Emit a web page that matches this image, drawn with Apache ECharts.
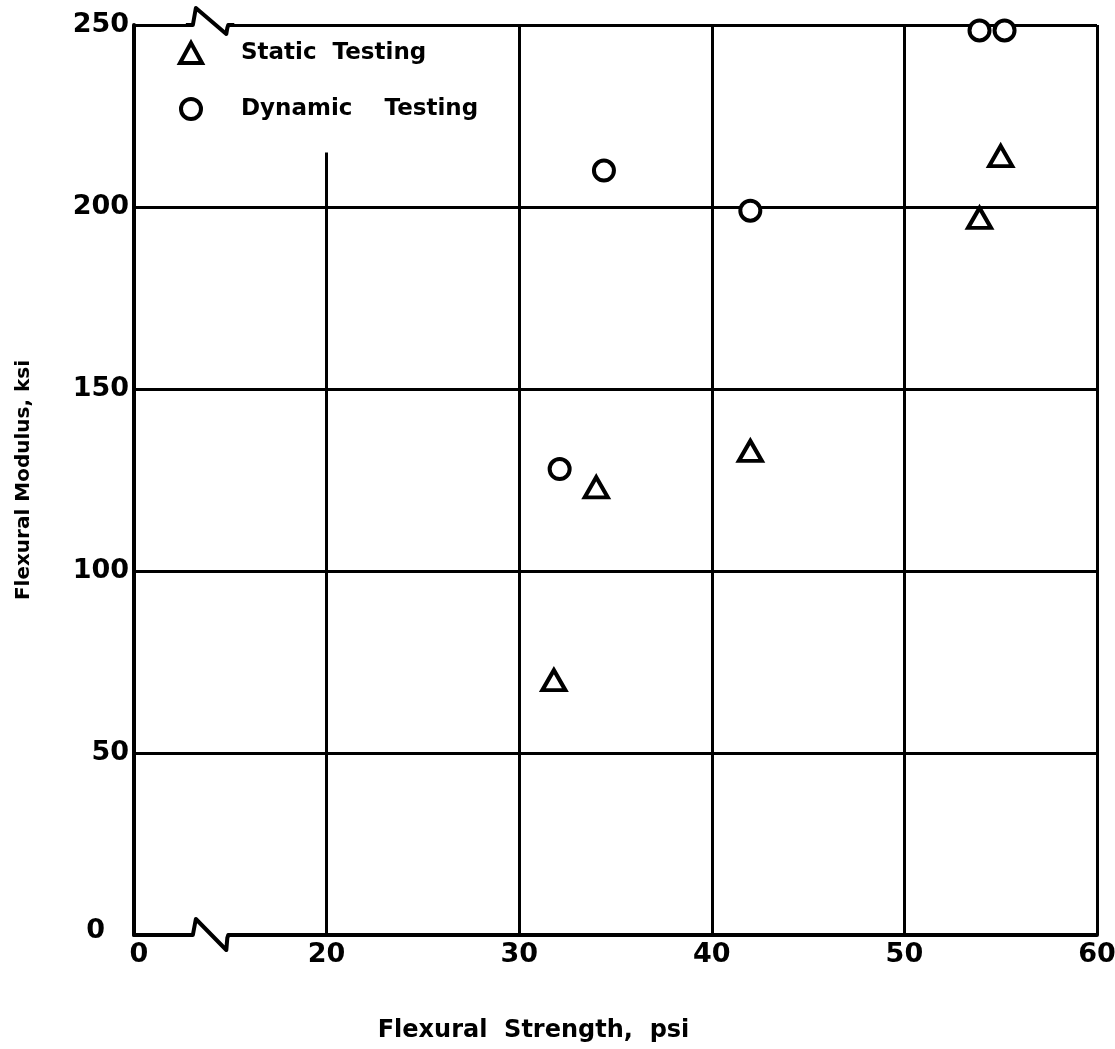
<!DOCTYPE html>
<html>
<head>
<meta charset="utf-8">
<script src="https://cdn.jsdelivr.net/npm/echarts@6/dist/echarts.min.js"></script>
<style>
html,body{margin:0;padding:0;background:#fff;}
#chart{width:1115px;height:1049px;}
</style>
</head>
<body>
<div id="chart"></div>
<script>
// Data (x: Flexural Strength, psi ; y: Flexural Modulus, ksi)
const staticX = [31.8, 34.0, 42.0, 53.9, 55.0];
const staticY = [70, 123, 133, 197, 214];
const dynamicX = [32.1, 34.4, 42.0, 53.9, 55.2];
const dynamicY = [128, 210, 199, 248.5, 248.5];
const xTickLabels = {10: '0', 20: '20', 30: '30', 40: '40', 50: '50', 60: '60'};
const yTicks = [0, 50, 100, 150, 200, 250];

const FONT = '"DejaVu Sans", sans-serif';
const chart = echarts.init(document.getElementById('chart'));

function pairs(xs, ys){ return xs.map((x,i)=>[x, ys[i]]); }

const markerStyle = {color:'#fff', borderColor:'#000', borderWidth:4, opacity:1};
const tickFont = {fontFamily:FONT, fontWeight:'bold', fontSize:27, color:'#000'};

chart.setOption({
  animation:false,
  backgroundColor:'#fff',
  grid:{left:134, right:18, top:25, bottom:114, containLabel:false, outerBoundsMode:'none'},
  legend:{
    orient:'vertical', left:173, top:36, itemGap:32,
    itemWidth:22, itemHeight:20,
    itemStyle:{color:'#fff', borderColor:'#000', borderWidth:4},
    textStyle:{fontFamily:FONT, fontWeight:'bold', fontSize:23, color:'#000', padding:[0,0,0,34]},
    data:['Static  Testing','Dynamic    Testing']
  },
  xAxis:{
    type:'value', min:10, max:60, interval:10,
    name:'Flexural  Strength,  psi', nameLocation:'middle', nameGap:84,
    nameTextStyle:{fontFamily:FONT, fontWeight:'bold', fontSize:24, color:'#000', padding:[0,164,0,0]},
    axisLine:{show:true, onZero:false, lineStyle:{color:'#000', width:4}},
    axisTick:{show:false},
    axisLabel:Object.assign({}, tickFont, {margin:6,
      formatter:v=>v===10 ? '{z|0}' : (xTickLabels[v] !== undefined ? xTickLabels[v] : ''),
      rich:{z:Object.assign({}, tickFont, {padding:[0,0,0,10]})}}),
    splitLine:{show:true, showMinLine:true, showMaxLine:true,
      lineStyle:{color:['#000','rgba(0,0,0,0)','#000','#000','#000','#000'], width:3}}
  },
  yAxis:{
    type:'value', min:0, max:250, interval:50,
    name:'Flexural Modulus, ksi', nameLocation:'middle', nameGap:100,
    nameTextStyle:{fontFamily:FONT, fontWeight:'bold', fontSize:20, color:'#000'},
    axisLine:{show:true, onZero:false, lineStyle:{color:'#000', width:4}},
    axisTick:{show:false},
    axisLabel:Object.assign({}, tickFont, {margin:5,
      formatter:v=>v===0 ? '{z|0}' : String(v),
      rich:{z:Object.assign({}, tickFont, {padding:[0,24,8,0]})}}),
    splitLine:{show:true, showMinLine:true, showMaxLine:true, lineStyle:{color:'#000', width:3}}
  },
  series:[
    {
      name:'Static  Testing', type:'scatter', symbol:'triangle', symbolSize:[23,20],
      itemStyle:markerStyle, z:5,
      data:pairs(staticX, staticY),
      markLine:{
        silent:true, symbol:'none', label:{show:false},
        lineStyle:{color:'#000', width:3, type:'solid'},
        data:[[{coord:[20,0]},{coord:[20,215]}]]
      }
    },
    {
      name:'Dynamic    Testing', type:'scatter', symbol:'circle', symbolSize:20,
      itemStyle:markerStyle, z:5,
      data:pairs(dynamicX, dynamicY)
    }
  ]
});

// Axis break symbols drawn at data-space locations
function breakGraphic(yVal, upPx, downPx){
  const a = chart.convertToPixel({gridIndex:0}, [12.9, yVal]);
  const b = chart.convertToPixel({gridIndex:0}, [15.0, yVal]);
  return [
    {type:'rect', z:100, shape:{x:a[0]+2, y:a[1]-3, width:b[0]-a[0]-4, height:6}, style:{fill:'#fff'}},
    {type:'polyline', z:101, shape:{points:[
      [a[0]-4, a[1]], [a[0]+3, a[1]], [a[0]+6, a[1]-upPx], [b[0]-4, a[1]+downPx], [b[0]-3, a[1]+3], [b[0]-2, a[1]], [b[0]+4, a[1]]
    ]}, style:{stroke:'#000', lineWidth:4, fill:null, lineJoin:'round'}}
  ];
}
chart.setOption({graphic:[].concat(breakGraphic(250, 17, 9), breakGraphic(0, 16, 15))});
</script>
</body>
</html>
